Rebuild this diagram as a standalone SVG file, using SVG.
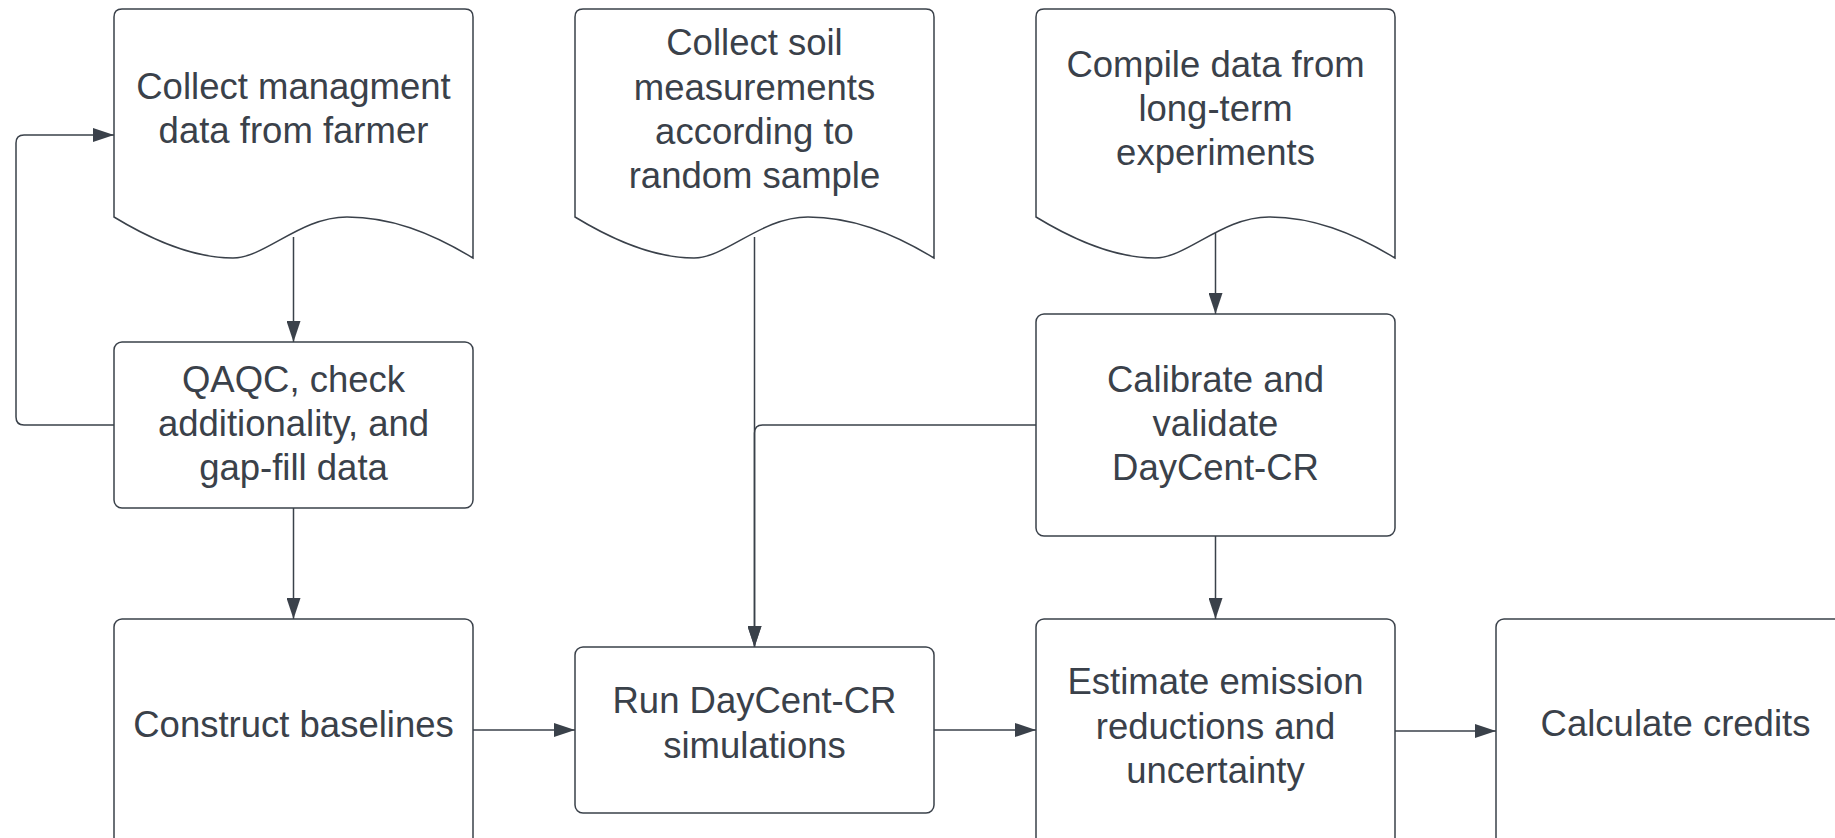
<svg xmlns="http://www.w3.org/2000/svg" width="1835" height="838" viewBox="0 0 1835 838">
<style>
.box{fill:#fff;stroke:#3a414a;stroke-width:1.5}
.t{font-family:"Liberation Sans",Arial,sans-serif;font-size:36.5px;fill:#3a414a;text-anchor:middle}
.c{fill:none;stroke:#3a414a;stroke-width:1.5}
</style>
<defs>
<marker id="ah" markerUnits="userSpaceOnUse" markerWidth="22" markerHeight="14" refX="21" refY="7" orient="auto">
<path d="M0,0 L21,7 L0,14 Z" fill="#3a414a"/>
</marker>
<path id="doc" d="M0,208 C46,236 86,249 119,249 C151,249 186,208 233,208 C276,208 316,223 359,249 V8 Q359,0 351,0 H8 Q0,0 0,8 Z"/>
</defs>
<rect width="1835" height="838" fill="#fff"/>
<g id="connectors">
<path class="c" d="M293.5,237 V342" marker-end="url(#ah)"/>
<path class="c" d="M293.5,508 V619" marker-end="url(#ah)"/>
<path class="c" d="M114,425 H24 Q16,425 16,417 V143 Q16,135 24,135 H114" marker-end="url(#ah)"/>
<path class="c" d="M754.5,237 V647" marker-end="url(#ah)"/>
<path class="c" d="M1036,425 H762.5 Q754.5,425 754.5,433 V647" marker-end="url(#ah)"/>
<path class="c" d="M1215.5,222 V314" marker-end="url(#ah)"/>
<path class="c" d="M1215.5,536 V619" marker-end="url(#ah)"/>
<path class="c" d="M473,730 H575" marker-end="url(#ah)"/>
<path class="c" d="M934,730 H1036" marker-end="url(#ah)"/>
<path class="c" d="M1395,731 H1496" marker-end="url(#ah)"/>
</g>
<g id="node-collect-mgmt">
<use href="#doc" class="box" transform="translate(114,9)"/>
<text class="t" x="293.5" y="99">Collect managment</text>
<text class="t" x="293.5" y="143">data from farmer</text>
</g>
<g id="node-collect-soil">
<use href="#doc" class="box" transform="translate(575,9)"/>
<text class="t" x="754.5" y="55">Collect soil</text>
<text class="t" x="754.5" y="100">measurements</text>
<text class="t" x="754.5" y="144">according to</text>
<text class="t" x="754.5" y="188">random sample</text>
</g>
<g id="node-compile">
<use href="#doc" class="box" transform="translate(1036,9)"/>
<text class="t" x="1215.5" y="77">Compile data from</text>
<text class="t" x="1215.5" y="121">long-term</text>
<text class="t" x="1215.5" y="165">experiments</text>
</g>
<g id="node-qaqc">
<rect class="box" x="114" y="342" width="359" height="166" rx="8"/>
<text class="t" x="293.5" y="392">QAQC, check</text>
<text class="t" x="293.5" y="436">additionality, and</text>
<text class="t" x="293.5" y="480">gap-fill data</text>
</g>
<g id="node-calibrate">
<rect class="box" x="1036" y="314" width="359" height="222" rx="8"/>
<text class="t" x="1215.5" y="392">Calibrate and</text>
<text class="t" x="1215.5" y="436">validate</text>
<text class="t" x="1215.5" y="480">DayCent-CR</text>
</g>
<g id="node-baselines">
<rect class="box" x="114" y="619" width="359" height="230" rx="8"/>
<text class="t" x="293.5" y="737">Construct baselines</text>
</g>
<g id="node-run">
<rect class="box" x="575" y="647" width="359" height="166" rx="8"/>
<text class="t" x="754.5" y="713">Run DayCent-CR</text>
<text class="t" x="754.5" y="758">simulations</text>
</g>
<g id="node-estimate">
<rect class="box" x="1036" y="619" width="359" height="230" rx="8"/>
<text class="t" x="1215.5" y="694">Estimate emission</text>
<text class="t" x="1215.5" y="739">reductions and</text>
<text class="t" x="1215.5" y="783">uncertainty</text>
</g>
<g id="node-credits">
<rect class="box" x="1496" y="619" width="359" height="230" rx="8"/>
<text class="t" x="1675.5" y="736">Calculate credits</text>
</g>
</svg>
